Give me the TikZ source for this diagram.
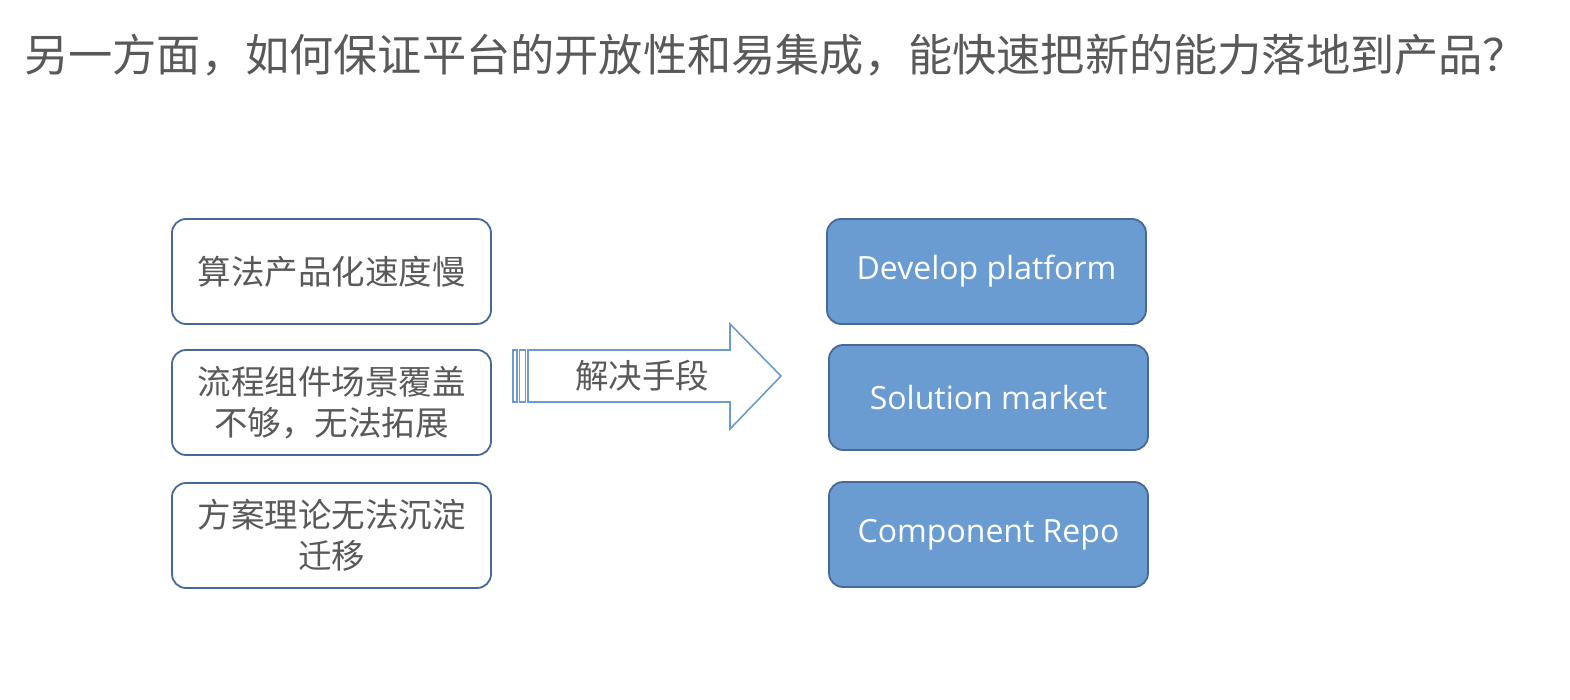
\documentclass[tikz,border=0pt]{standalone}
\usepackage{fontspec}
\newfontfamily\cjk{Noto Sans CJK SC}
\newfontfamily\lat{Open Sans}
\definecolor{txtgray}{HTML}{595959}
\definecolor{boxline}{HTML}{46699A}
\definecolor{boxfill}{HTML}{6A9BD1}
\definecolor{arrowline}{HTML}{6A9BD1}
\tikzset{
  leftbox/.style={draw=boxline, line width=1.8pt, rounded corners=14pt, fill=white, minimum width=319pt, minimum height=105pt, align=center, text=txtgray, font=\cjk\fontsize{33.5}{41}\selectfont},
  rightbox/.style={draw=boxline, line width=1.8pt, rounded corners=14pt, fill=boxfill, minimum width=319pt, minimum height=105pt, align=center, text=white, font=\lat\fontsize{32}{40}\selectfont},
  arr/.style={draw=arrowline, line width=1.6pt}
}
\begin{document}
\begin{tikzpicture}[x=1pt,y=-1pt]
\useasboundingbox (0,0) rectangle (1570,700);
\node[anchor=west, text=txtgray, font=\cjk\fontsize{44.2}{50}\selectfont, inner sep=0pt] (title) at (24,55) {另一方面，如何保证平台的开放性和易集成，能快速把新的能力落地到产品？};
\node[leftbox] (l1) at (331.5,271.5) {算法产品化速度慢};
\node[leftbox] (l2) at (331.5,402.5) {流程组件场景覆盖\\不够，无法拓展};
\node[leftbox] (l3) at (331.5,535.5) {方案理论无法沉淀\\迁移};
\node[rightbox] (r1) at (986.5,271.5) {Develop platform};
\node[rightbox] (r2) at (988.5,397.5) {Solution market};
\node[rightbox] (r3) at (988.5,534.5) {Component Repo};
\draw[arr] (513,350) rectangle (517,402);
\draw[arr] (519.5,350) rectangle (525.5,402);
\draw[arr] (528,350) -- (730,350) -- (730,324) -- (781,376) -- (730,429) -- (730,402) -- (528,402) -- cycle;
\node[text=txtgray, font=\cjk\fontsize{33.5}{40}\selectfont] (sol) at (642,376) {解决手段};
\end{tikzpicture}
\end{document}
